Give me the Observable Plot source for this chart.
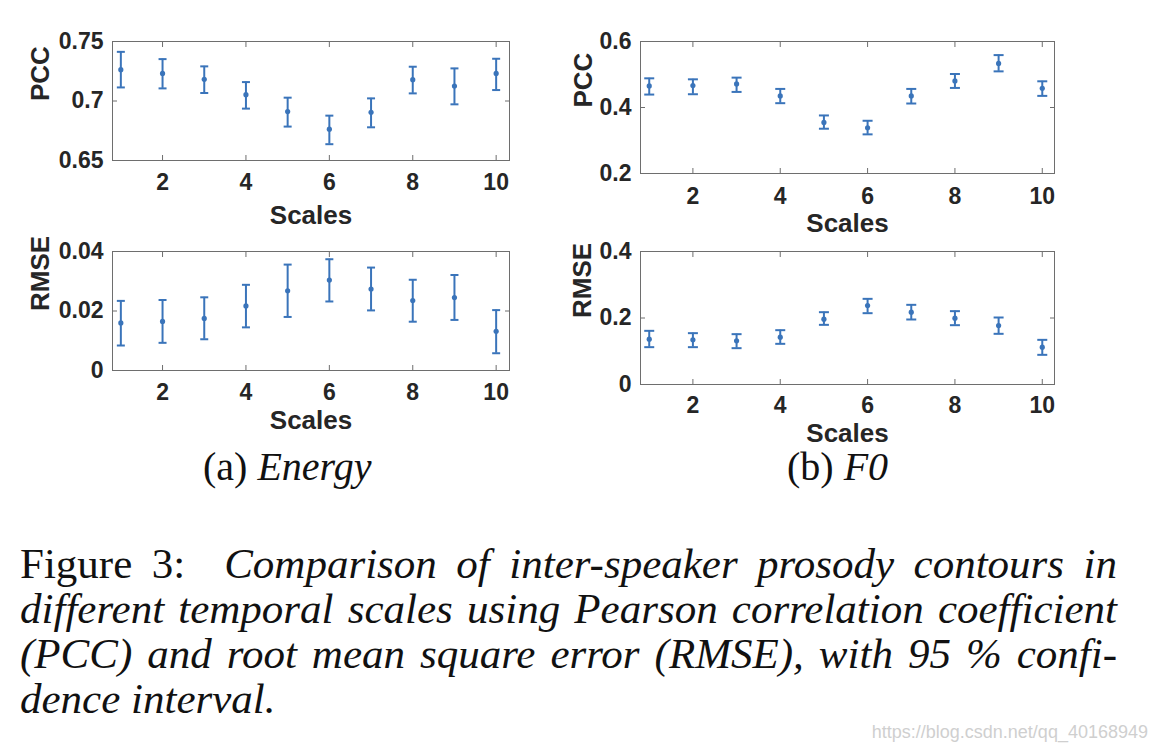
<!DOCTYPE html>
<html>
<head>
<meta charset="utf-8">
<script src="https://cdn.jsdelivr.net/npm/d3@7"></script>
<script src="https://cdn.jsdelivr.net/npm/@observablehq/plot@0.6"></script>
<style>
  html, body { margin: 0; padding: 0; background: #fff; }
  #fig { position: relative; width: 1156px; height: 752px; overflow: hidden; background: #fff; }
  .panel { position: absolute; }
  .panel svg { max-width: none !important; }
  .sub { position: absolute; font-family: "Liberation Serif", "Times New Roman", serif; font-size: 40px; color: #111; white-space: nowrap; line-height: 46px; }
  .cap { position: absolute; left: 20px; width: 1097px; font-family: "Liberation Serif", "Times New Roman", serif; font-size: 43px; color: #111; }
  .cap div { height: 45px; line-height: 45px; white-space: nowrap; }
  .cap .j { text-align: justify; text-align-last: justify; white-space: normal; }
  .wm { position: absolute; right: 8px; top: 722px; font-family: "Liberation Sans", Arial, sans-serif; font-size: 18px; color: #cfcfcf; }
</style>
</head>
<body>
<div id="fig">
  <div class="panel" id="aPcc" style="left:0px;top:0px;"></div>
  <div class="panel" id="aRmse" style="left:0px;top:235px;"></div>
  <div class="panel" id="bPcc" style="left:560px;top:0px;"></div>
  <div class="panel" id="bRmse" style="left:560px;top:238px;"></div>
  <div class="sub" style="left:203px;top:444px;">(a) <i>Energy</i></div>
  <div class="sub" style="left:787px;top:444px;">(b) <i>F0</i></div>
  <div class="cap" style="top:541px;">
    <div class="j">Figure 3:&nbsp; <i>Comparison of inter-speaker prosody contours in</i></div>
    <div class="j"><i>different temporal scales using Pearson correlation coefficient</i></div>
    <div class="j"><i>(PCC) and root mean square error (RMSE), with 95 % confi-</i></div>
    <div><i>dence interval.</i></div>
  </div>
  <div class="wm">https://blog.csdn.net/qq_40168949</div>
</div>
<script>
// ---- data ----
const scales = [1, 2, 3, 4, 5, 6, 7, 8, 9, 10];
const xTicks = [2, 4, 6, 8, 10];

const energyPcc   = [0.7263, 0.7232, 0.7182, 0.7053, 0.6911, 0.6763, 0.6905, 0.7179, 0.7126, 0.7232];
const energyPccLo = [0.7114, 0.7106, 0.7067, 0.6936, 0.6785, 0.6637, 0.6779, 0.7064, 0.6972, 0.7092];
const energyPccHi = [0.7413, 0.7352, 0.7291, 0.7159, 0.7028, 0.6877, 0.7022, 0.7288, 0.7274, 0.7355];
const energyPccTicks = [0.65, 0.7, 0.75];

const energyRmse   = [0.0160, 0.0165, 0.0175, 0.0217, 0.0268, 0.0304, 0.0274, 0.0235, 0.0245, 0.0132];
const energyRmseLo = [0.0084, 0.0093, 0.0105, 0.0145, 0.0180, 0.0232, 0.0202, 0.0164, 0.0170, 0.0058];
const energyRmseHi = [0.0234, 0.0237, 0.0246, 0.0288, 0.0356, 0.0374, 0.0346, 0.0305, 0.0321, 0.0203];
const energyRmseTicks = [0, 0.02, 0.04];

const f0Pcc   = [0.4653, 0.4663, 0.4714, 0.4352, 0.3548, 0.3387, 0.4352, 0.4804, 0.5337, 0.4583];
const f0PccLo = [0.4392, 0.4402, 0.4472, 0.4131, 0.3357, 0.3186, 0.4121, 0.4593, 0.5095, 0.4352];
const f0PccHi = [0.4884, 0.4854, 0.4905, 0.4563, 0.3759, 0.3598, 0.4563, 0.5015, 0.5588, 0.4794];
const f0PccTicks = [0.2, 0.4, 0.6];

const f0Rmse   = [0.1363, 0.1343, 0.1313, 0.1424, 0.1965, 0.2376, 0.2175, 0.1995, 0.1774, 0.1123];
const f0RmseLo = [0.1123, 0.1123, 0.1093, 0.1223, 0.1794, 0.2145, 0.1955, 0.1784, 0.1524, 0.0892];
const f0RmseHi = [0.1614, 0.1544, 0.1514, 0.1634, 0.2175, 0.2576, 0.2396, 0.2206, 0.2015, 0.1343];
const f0RmseTicks = [0, 0.2, 0.4];

// ---- style ----
const BLUE = "#3a74ba";
const INK = "#262626";
const FRAME = "#6e6e6e";
const FONT = "'Liberation Sans', Arial, Helvetica, sans-serif";

const capSymbol = {
  draw(ctx, size) {
    const w = Math.sqrt(size / Math.PI);
    ctx.moveTo(-w, 0);
    ctx.lineTo(w, 0);
  }
};

function panel(cfg) {
  const rows = scales.map((s, i) => ({x: s, y: cfg.v[i], lo: cfg.lo[i], hi: cfg.hi[i]}));
  return Plot.plot({
    width: cfg.width,
    height: cfg.height,
    marginLeft: cfg.ml,
    marginRight: cfg.mr,
    marginTop: cfg.mt,
    marginBottom: cfg.mb,
    style: {fontFamily: FONT, background: "transparent", color: INK, overflow: "visible"},
    x: {domain: cfg.xDomain},
    y: {domain: cfg.yDomain},
    marks: [
      Plot.frame({stroke: FRAME, strokeWidth: 1}),
      Plot.axisX(xTicks, {anchor: "bottom", tickSize: -5, tickPadding: 4 + cfg.xPad, stroke: FRAME, fill: INK, fontSize: 23, fontWeight: "bold", label: null, tickFormat: d => String(d)}),
      Plot.axisX(xTicks, {anchor: "top", tickSize: -5, stroke: FRAME, fill: "none", label: null, tickFormat: d => ""}),
      Plot.axisY(cfg.yTicks, {anchor: "left", tickSize: -5, tickPadding: 14, stroke: FRAME, fill: INK, fontSize: 23, fontWeight: "bold", label: null, tickFormat: d => String(d)}),
      Plot.axisY(cfg.yTicks, {anchor: "right", tickSize: -5, stroke: FRAME, fill: "none", label: null, tickFormat: d => ""}),
      Plot.text([cfg.yLabel], {text: d => d, frameAnchor: "left", dx: -cfg.yLabelOff, rotate: -90, fontSize: 26, fontWeight: "bold", fill: INK}),
      Plot.text(["Scales"], {text: d => d, frameAnchor: "bottom", dy: cfg.xLabelOff, fontSize: 26, fontWeight: "bold", fill: INK}),
      Plot.ruleX(rows, {x: "x", y1: "lo", y2: "hi", stroke: BLUE, strokeWidth: 2}),
      Plot.dot(rows, {x: "x", y: "lo", symbol: capSymbol, r: cfg.cap, stroke: BLUE, strokeWidth: 2}),
      Plot.dot(rows, {x: "x", y: "hi", symbol: capSymbol, r: cfg.cap, stroke: BLUE, strokeWidth: 2}),
      Plot.dot(rows, {x: "x", y: "y", r: 2.6, fill: BLUE, stroke: "none"})
    ]
  });
}

document.getElementById("aPcc").append(panel({
  v: energyPcc, lo: energyPccLo, hi: energyPccHi, yTicks: energyPccTicks, yDomain: [0.65, 0.75], yLabel: "PCC",
  width: 530, height: 235, ml: 112, mr: 21, mt: 41, mb: 75, xDomain: [0.8, 10.32],
  xPad: 14, yLabelOff: 72, xLabelOff: 63, cap: 4
}));
document.getElementById("aRmse").append(panel({
  v: energyRmse, lo: energyRmseLo, hi: energyRmseHi, yTicks: energyRmseTicks, yDomain: [0, 0.04], yLabel: "RMSE",
  width: 530, height: 200, ml: 112, mr: 21, mt: 16, mb: 65, xDomain: [0.8, 10.32],
  xPad: 14, yLabelOff: 72, xLabelOff: 58, cap: 4
}));
document.getElementById("bPcc").append(panel({
  v: f0Pcc, lo: f0PccLo, hi: f0PccHi, yTicks: f0PccTicks, yDomain: [0.2, 0.6], yLabel: "PCC",
  width: 596, height: 238, ml: 80, mr: 102, mt: 41, mb: 65, xDomain: [0.8, 10.28],
  xPad: 15, yLabelOff: 57, xLabelOff: 58, cap: 5
}));
document.getElementById("bRmse").append(panel({
  v: f0Rmse, lo: f0RmseLo, hi: f0RmseHi, yTicks: f0RmseTicks, yDomain: [0, 0.4], yLabel: "RMSE",
  width: 596, height: 210, ml: 80, mr: 102, mt: 13, mb: 64, xDomain: [0.8, 10.28],
  xPad: 13, yLabelOff: 58, xLabelOff: 57, cap: 5
}));
</script>
</body>
</html>
